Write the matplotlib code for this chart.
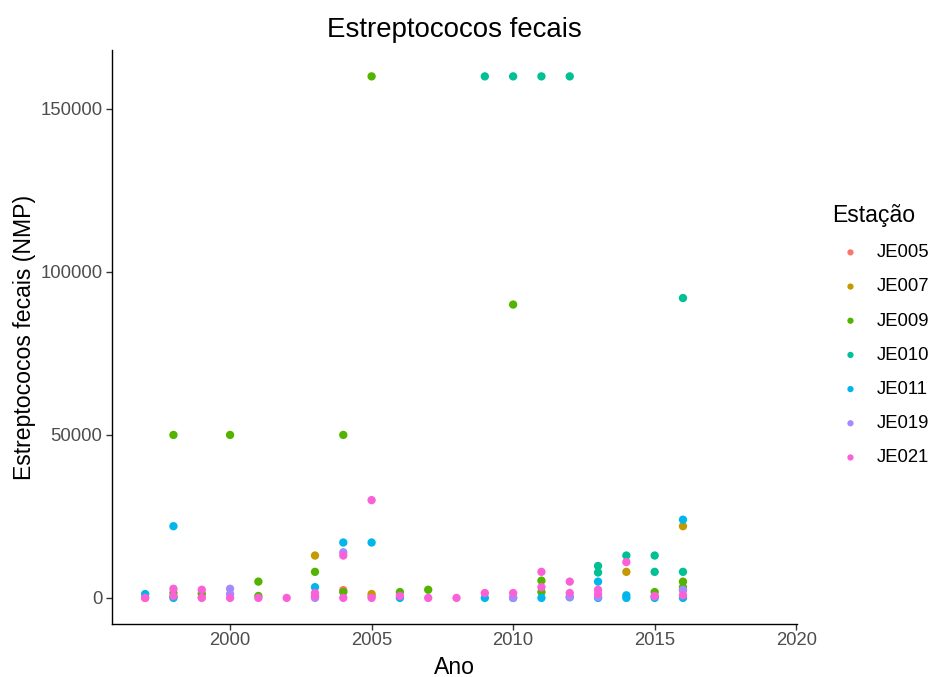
import matplotlib
matplotlib.use("Agg")
import matplotlib.pyplot as plt

plt.rcParams['font.family'] = ['Liberation Sans', 'DejaVu Sans']

# Estreptococos fecais (NMP) by station and year
stations = ["JE005", "JE007", "JE009", "JE010", "JE011", "JE019", "JE021"]
colors = ["#F8766D", "#C49A00", "#53B400", "#00C094", "#00B6EB", "#A58AFF", "#FB61D7"]

je005_ano = [1997, 1998, 1999, 2003, 2004, 2005, 2016]
je005_val = [0, 300, 200, 400, 2400, 500, 2300]

je007_ano = [2003, 2005, 2014, 2016]
je007_val = [13000, 1200, 8000, 22000]

je009_ano = [1998, 1998, 1999, 2000, 2001, 2001, 2003, 2004, 2004, 2005, 2006, 2007,
             2010, 2011, 2011, 2015, 2016, 2016]
je009_val = [50000, 1500, 1300, 50000, 5000, 600, 8000, 50000, 1800, 160000, 1800, 2500,
             90000, 5300, 1800, 1800, 5000, 3300]

je010_ano = [2009, 2010, 2011, 2012, 2013, 2013, 2014, 2015, 2015, 2016, 2016]
je010_val = [160000, 160000, 160000, 160000, 9800, 7800, 13000, 13000, 8000, 92000, 8000]

je011_ano = [1997, 1998, 1998, 2003, 2004, 2005, 2006, 2009, 2010, 2011, 2012, 2013,
             2013, 2014, 2014, 2015, 2016, 2016]
je011_val = [1200, 22000, 0, 3300, 17000, 17000, 0, 0, 0, 0, 200, 5000,
             0, 800, 0, 0, 24000, 0]

je019_ano = [2000, 2000, 2003, 2004, 2010, 2012, 2013, 2015, 2016]
je019_val = [2800, 1200, 0, 14000, 0, 300, 300, 500, 2500]

je021_ano = [1997, 1998, 1998, 1999, 1999, 2000, 2001, 2002, 2003, 2003, 2004, 2004,
             2005, 2005, 2006, 2007, 2008, 2009, 2010, 2011, 2011, 2012, 2012, 2013,
             2013, 2014, 2015, 2016]
je021_val = [0, 2800, 600, 2500, 0, 0, 0, 0, 1500, 600, 13000, 0,
             30000, 0, 600, 0, 0, 1500, 1500, 8000, 3300, 5000, 1500, 2500,
             1200, 11000, 600, 800]

anos = [je005_ano, je007_ano, je009_ano, je010_ano, je011_ano, je019_ano, je021_ano]
valores = [je005_val, je007_val, je009_val, je010_val, je011_val, je019_val, je021_val]

fig = plt.figure(figsize=(9.32, 6.77), dpi=100)
ax = fig.add_axes([0.1202, 0.0783, 0.7350, 0.8474])

for est, cor, x, y in zip(stations, colors, anos, valores):
    ax.scatter(x, y, s=36, color=cor, edgecolors='none', label=est, zorder=3)

ax.set_xlim(1995.83, 2020.03)
ax.set_ylim(-8000, 168000)
ax.set_xticks([2000, 2005, 2010, 2015, 2020])
ax.set_yticks([0, 50000, 100000, 150000])

for side in ['top', 'right']:
    ax.spines[side].set_visible(False)
for side in ['left', 'bottom']:
    ax.spines[side].set_color('black')
    ax.spines[side].set_linewidth(1.0)

ax.tick_params(axis='both', colors='#333333', labelcolor='#4D4D4D', labelsize=13.3,
               length=4, width=1.0, pad=3)
ax.tick_params(axis='x', pad=1.5)

ax.set_xlabel("Ano", fontsize=16.6, color='black', labelpad=5)
ax.set_ylabel("Estreptococos fecais (NMP)", fontsize=16.6, color='black', labelpad=3)
ax.set_title("Estreptococos fecais", fontsize=19.9, color='black', pad=9.5)

leg = ax.legend(title="Estação", loc='upper left', bbox_to_anchor=(0.8927, 0.6986),
                bbox_transform=fig.transFigure, frameon=False, fontsize=13.3,
                title_fontsize=16.6, labelspacing=0.93, handlelength=2.0,
                handletextpad=0.4, markerscale=0.75, alignment='left', borderpad=0,
                borderaxespad=0)

fig.savefig("out.png", dpi=100, facecolor='white')
